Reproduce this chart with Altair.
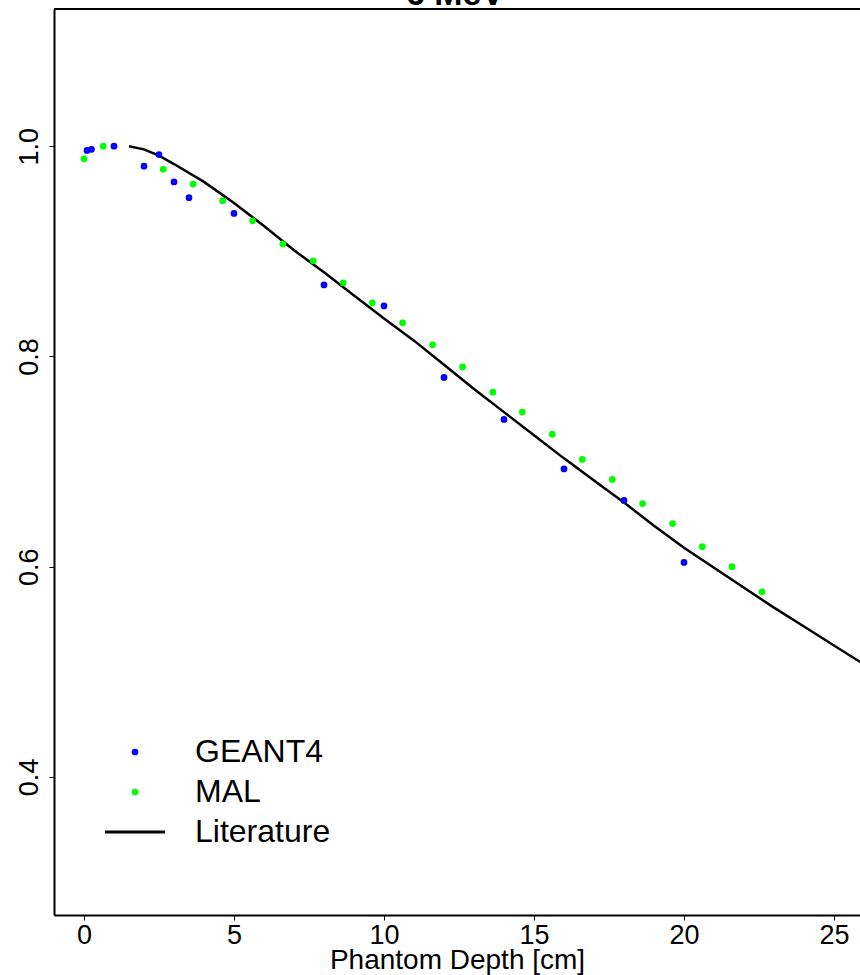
import altair as alt
import pandas as pd

# Relative dose vs. phantom depth, 6 MeV beam
geant_x = [0.1, 0.25, 1.0, 2.0, 2.5, 3.0, 3.5, 5.0, 8.0, 10.0, 12.0, 14.0, 16.0, 18.0, 20.0]
geant_y = [0.996, 0.997, 1.000, 0.981, 0.992, 0.966, 0.951, 0.936, 0.868, 0.848,
           0.780, 0.740, 0.693, 0.663, 0.604]

mal_x = [0.0, 0.64, 2.64, 3.64, 4.62, 5.62, 6.63, 7.64, 8.64, 9.61, 10.62, 11.62,
         12.62, 13.63, 14.61, 15.61, 16.61, 17.61, 18.62, 19.62, 20.61, 21.6, 22.6]
mal_y = [0.988, 1.000, 0.978, 0.964, 0.948, 0.929, 0.907, 0.891, 0.870, 0.851, 0.832,
         0.811, 0.790, 0.766, 0.747, 0.726, 0.702, 0.683, 0.660, 0.641, 0.619, 0.600, 0.576]

lit_x = [1.5, 2.0, 2.5, 3.0, 4.0, 5.0, 6.0, 7.0, 8.0, 9.0, 10.0, 11.0, 12.0, 13.0,
         14.0, 15.0, 16.0, 17.0, 18.0, 19.0, 20.0, 21.0, 22.0, 23.0, 24.0, 25.0, 26.0, 27.0]
lit_y = [1.000, 0.997, 0.991, 0.983, 0.966, 0.946, 0.924, 0.901, 0.880, 0.858, 0.836,
         0.815, 0.792, 0.769, 0.747, 0.725, 0.703, 0.682, 0.661, 0.639, 0.618, 0.599,
         0.580, 0.561, 0.543, 0.525, 0.507, 0.490]

series_names = ["GEANT4", "MAL", "Literature"]
series_colors = ["#0000FF", "#00FF00", "#000000"]
series_shapes = ["circle", "circle", "stroke"]

x_ticks = [0, 5, 10, 15, 20, 25]
y_ticks = [0.4, 0.6, 0.8, 1.0]

plot_title = "6 MeV"

FONT = "Liberation Sans"

points = pd.concat([
    pd.DataFrame({"depth": geant_x, "dose": geant_y, "series": "GEANT4"}),
    pd.DataFrame({"depth": mal_x, "dose": mal_y, "series": "MAL"}),
])
literature = pd.DataFrame({"depth": lit_x, "dose": lit_y})

x_enc = alt.X("depth:Q", scale=alt.Scale(domain=[-1.0, 25.8667], nice=False, zero=False),
              axis=alt.Axis(values=x_ticks, title="Phantom Depth [cm]", format="d"))
y_enc = alt.Y("dose:Q", scale=alt.Scale(domain=[0.2686, 1.1305], nice=False, zero=False),
              axis=alt.Axis(values=y_ticks, title=None, format=".1f", labelAngle=270))

# legend keys: small dots for the simulated series, a 60 px line for the literature curve
key_size = alt.ExprRef(expr="datum.value === 'Literature' ? 3600 : 14")

pts = alt.Chart(points).mark_point(filled=False, strokeWidth=3, size=14, opacity=1,
                                   clip=True).encode(
    x=x_enc,
    y=y_enc,
    color=alt.Color("series:N", title=None,
                    scale=alt.Scale(domain=series_names, range=series_colors),
                    legend=alt.Legend(symbolSize=key_size)),
    shape=alt.Shape("series:N", title=None,
                    scale=alt.Scale(domain=series_names, range=series_shapes),
                    legend=alt.Legend(symbolSize=key_size)),
)

line = alt.Chart(literature).mark_line(color="black", strokeWidth=2.5, clip=True).encode(
    x=x_enc, y=y_enc
)

# top edge of the plotting box
top_edge = alt.Chart(literature).mark_rule(color="black", strokeWidth=2).encode(
    x=alt.value(0), x2=alt.value(806), y=alt.value(0)
)

# main title sitting just above the box (mostly beyond the top of the canvas)
title_text = alt.Chart(pd.DataFrame({"t": [plot_title]})).mark_text(
    font=FONT, fontSize=34, fontWeight="bold", color="black",
    align="center", baseline="alphabetic",
).encode(text="t:N", x=alt.value(401), y=alt.value(-4))

chart = (
    alt.layer(line, pts, top_edge, title_text)
    .properties(
        width=806,
        height=906,
        padding={"left": 54, "top": 9, "right": 0, "bottom": 60},
        autosize=alt.AutoSizeParams(type="none"),
        background="white",
    )
    .configure_view(stroke=None)
    .configure_axis(
        grid=False,
        domainColor="black",
        domainWidth=2,
        tickColor="black",
        tickWidth=1,
        tickSize=5,
        labelFont=FONT,
        labelFontSize=27,
        labelColor="black",
        titleFont=FONT,
        titleFontSize=28,
        titleFontWeight="normal",
        titleColor="black",
    )
    .configure_axisX(labelPadding=2, titleBaseline="alphabetic", titleY=53)
    .configure_axisY(labelPadding=6)
    .configure_legend(
        orient="none",
        legendX=65,
        legendY=727,
        padding=0,
        labelFont=FONT,
        labelFontSize=32,
        labelColor="black",
        labelOffset=44,
        symbolStrokeWidth=3,
        rowPadding=8,
    )
)

chart.save("out.html", embed_options={"renderer": "svg", "actions": False})
